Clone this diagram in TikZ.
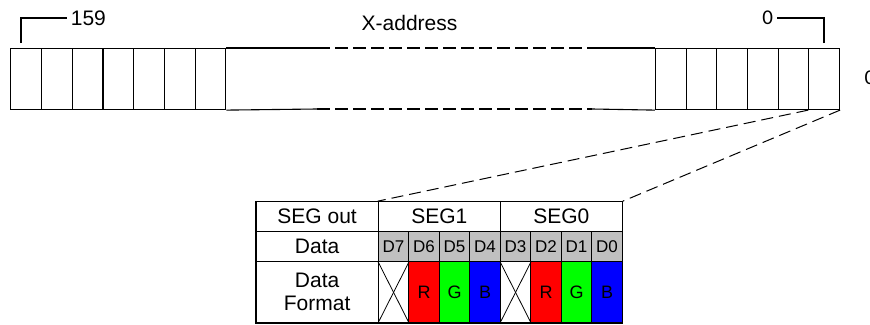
\documentclass[tikz,border=0pt]{standalone}
\usepackage{fontspec}
\setmainfont{Liberation Sans}
\newfontfamily\calfont{Carlito}
\definecolor{hdrgray}{HTML}{C0C0C0}
\begin{document}
\begin{tikzpicture}[x=1pt,y=-1pt,line width=1.1pt,
  big/.style={font=\fontsize{21}{23}\selectfont},
  small/.style={font=\fontsize{17}{19}\selectfont},
  mid/.style={font=\fontsize{18}{20}\selectfont},
  barcell/.style={draw,rectangle,inner sep=0,minimum width=30.7,minimum height=61,anchor=north west},
  tcell/.style={draw,rectangle,inner sep=0,minimum height=30,big},
  dcell/.style={draw,rectangle,inner sep=0,minimum width=30.5,minimum height=30,fill=hdrgray,small},
  fcell/.style={draw,rectangle,inner sep=0,minimum width=30.5,minimum height=61.3,mid},
  gapline/.style={dash pattern=on 13pt off 5pt},
  zoomline/.style={dash pattern=on 12pt off 6pt,line width=1pt}]
\useasboundingbox (0,0) rectangle (870,324);

% ---- address bar: left cells (159 ... 153)
\foreach \i in {1,...,7}
  \node[barcell] (L\i) at ({10.3+30.7*(\i-1)},48) {};
% ---- address bar: right cells (5 ... 0)
\foreach \i in {5,4,3,2,1,0}
  \node[barcell] (R\i) at ({839-30.7*(\i+1)},48) {};

% ---- bar body between the two groups of cells
\coordinate (tA) at (317,48);  \coordinate (tB) at (592,48);
\coordinate (bA) at (317,109); \coordinate (bB) at (592,109);
\draw (L7.north east) -- (tA);
\draw[gapline] (tA) -- (tB);
\draw (tB) -- (R5.north west);
\draw (L7.south east) -- (bA);
\draw[gapline] (bA) -- (bB);
\draw (bB) -- (R5.south west);

% ---- labels above the bar
\node[big,anchor=west] (n159) at (67,18) {159};
\node[big,anchor=east] (n0) at (777,18) {\calfont 0};
\node[big] (xaddr) at (409.5,23) {X-address};
\coordinate (k159) at (21,43);
\coordinate (k0) at (824,43);
\draw (k159) |- (n159.west);
\draw (k0) |- (n0.east);
\node[big,anchor=west,inner sep=0] (rowlbl) at (864,78) {\calfont 0};

% ---- table: SEG out row
\node[tcell,minimum width=122.3] (segout) at (317.15,216.7) {SEG out};
\node[tcell,minimum width=122] (seg1) at (439.3,216.7) {SEG1};
\node[tcell,minimum width=122] (seg0) at (561.3,216.7) {SEG0};

% ---- table: Data row
\node[tcell,minimum width=122.3] (datalbl) at (317.15,246.7) {Data};
\foreach \d [count=\k from 0] in {7,6,5,4,3,2,1,0}
  \node[dcell] (D\d) at ({393.55+30.5*\k},246.7) {D\d};

% ---- table: Data Format row
\node[draw,rectangle,inner sep=0,minimum width=122.3,minimum height=61.3,big,align=center] (fmtlbl) at (317.15,292.35) {Data\\Format};
\foreach \n/\k/\c/\t in {x1/0/white/,r1/1/red/R,g1/2/green/G,b1/3/blue/B,x0/4/white/,r0/5/red/R,g0/6/green/G,b0/7/blue/B}
  \node[fcell,fill=\c] (\n) at ({393.55+30.5*\k},292.35) {\t};
\foreach \n in {x1,x0} {
  \draw[line width=0.8pt] (\n.north west) -- (\n.south east);
  \draw[line width=0.8pt] (\n.north east) -- (\n.south west);
}

% ---- zoom lines from cell 0 to the table
\draw[zoomline] (R0.south west) -- (seg1.north west);
\draw[zoomline] (R0.south east) -- (seg0.north east);
\end{tikzpicture}
\end{document}
